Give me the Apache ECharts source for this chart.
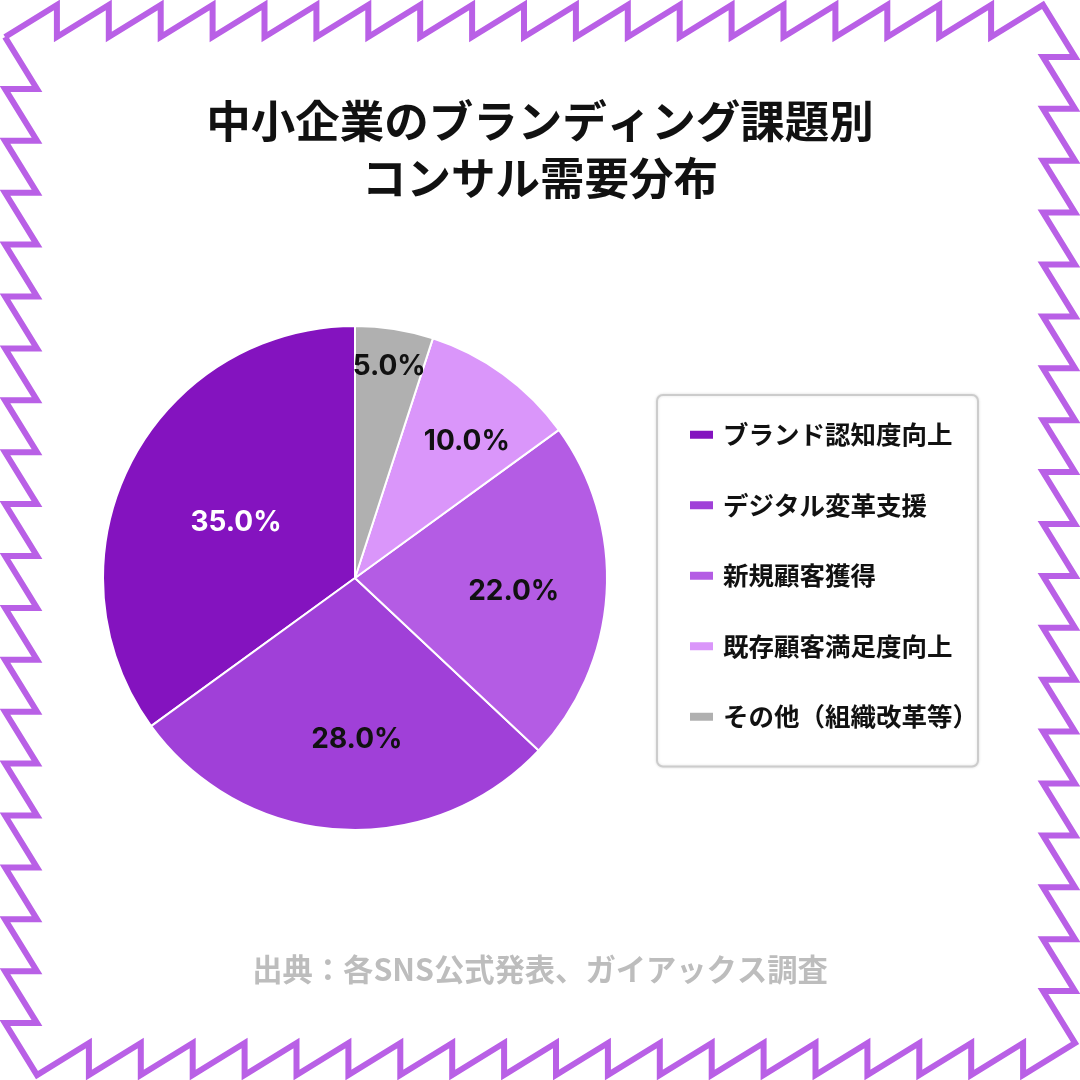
<!DOCTYPE html>
<html>
<head>
<meta charset="utf-8">
<script src="https://cdn.jsdelivr.net/npm/echarts@6/dist/echarts.min.js"></script>
<style>
  html, body { margin: 0; padding: 0; background: #ffffff; }
  #chart { width: 1080px; height: 1080px; }
</style>
</head>
<body>
<div id="chart"></div>
<script>
// ---- data ----
const titleText = '中小企業のブランディング課題別\nコンサル需要分布';
const sourceText = '出典：各SNS公式発表、ガイアックス調査';
const categories = ['ブランド認知度向上', 'デジタル変革支援', '新規顧客獲得', '既存顧客満足度向上', 'その他（組織改革等）'];
const values = [35.0, 28.0, 22.0, 10.0, 5.0];

// ---- style ----
const colors = ['#8413bf', '#a040d8', '#b45ce4', '#da96fa', '#b0b0b0'];
const labelColors = ['#ffffff', '#111111', '#111111', '#111111', '#111111'];
// pixel nudges of each slice label from its default inside position
const labelNudge = [[-4, 3], [10, 33], [30, 5], [36, -32], [14, -84]];
const PIE_R = 252;

// zigzag frame (decoration)
function zigzag() {
  const S = 1080, O = 5, D = 32, N = 20;
  const step = (S - 2 * O - D) / N;
  const top = [[O, O + D]];
  for (let k = 1; k <= N; k++) {
    const x = O + k * step;
    top.push([x, O]);
    if (k < N) top.push([x, O + D]);
  }
  const pts = [];
  let cur = top;
  for (let r = 0; r < 4; r++) {
    cur.forEach(p => pts.push(p.slice()));
    cur = cur.map(p => [S - p[1], p[0]]);
  }
  pts.push(pts[0].slice());
  return pts;
}

const chart = echarts.init(document.getElementById('chart'), null, { renderer: 'canvas' });
chart.setOption({
  backgroundColor: '#ffffff',
  animation: false,
  title: [{
    text: titleText,
    left: 'center',
    top: 88,
    textStyle: {
      fontFamily: '"Noto Sans CJK JP", sans-serif',
      fontSize: 44.5,
      fontWeight: 'bold',
      color: '#111111',
      lineHeight: 57
    }
  }, {
    text: sourceText,
    left: 'center',
    top: 949,
    textStyle: {
      fontFamily: '"Noto Sans CJK JP", sans-serif',
      fontSize: 30.3,
      fontWeight: 'bold',
      color: '#bdbdbd'
    }
  }],
  legend: {
    orient: 'vertical',
    left: 657,
    top: 395,
    data: categories,
    icon: 'rect',
    itemWidth: 23,
    itemHeight: 8,
    itemGap: 45,
    itemStyle: { borderWidth: 0 },
    padding: [27, 0, 37, 33],
    backgroundColor: '#ffffff',
    borderColor: '#cccccc',
    borderWidth: 2,
    borderRadius: 6,
    shadowBlur: 3,
    shadowColor: 'rgba(0,0,0,0.12)',
    textStyle: {
      fontFamily: '"Noto Sans CJK JP", sans-serif',
      fontSize: 25.5,
      fontWeight: 'bold',
      color: '#111111',
      padding: [0, 0, 0, 5]
    },
    selectedMode: false
  },
  graphic: [{
    type: 'polyline',
    z: -10,
    silent: true,
    shape: { points: zigzag() },
    style: { stroke: '#b960e6', lineWidth: 6, fill: null, lineJoin: 'miter' }
  }],
  series: [{
    type: 'pie',
    center: [355, 578],
    radius: PIE_R,
    startAngle: 90,
    clockwise: false,
    avoidLabelOverlap: false,
    emphasis: { disabled: true },
    itemStyle: { borderColor: '#ffffff', borderWidth: 2 },
    label: {
      show: true,
      position: 'inside',
      fontFamily: 'Inter, "Noto Sans", sans-serif',
      fontSize: 28,
      fontWeight: 'bold',
      formatter: p => p.value.toFixed(1) + '%'
    },
    labelLine: { show: false },
    labelLayout: function (params) {
      const n = labelNudge[params.dataIndex];
      return { dx: n[0], dy: n[1] };
    },
    data: categories.map((c, i) => ({
      name: c,
      value: values[i],
      itemStyle: { color: colors[i] },
      label: { color: labelColors[i] }
    }))
  }]
});
</script>
</body>
</html>
